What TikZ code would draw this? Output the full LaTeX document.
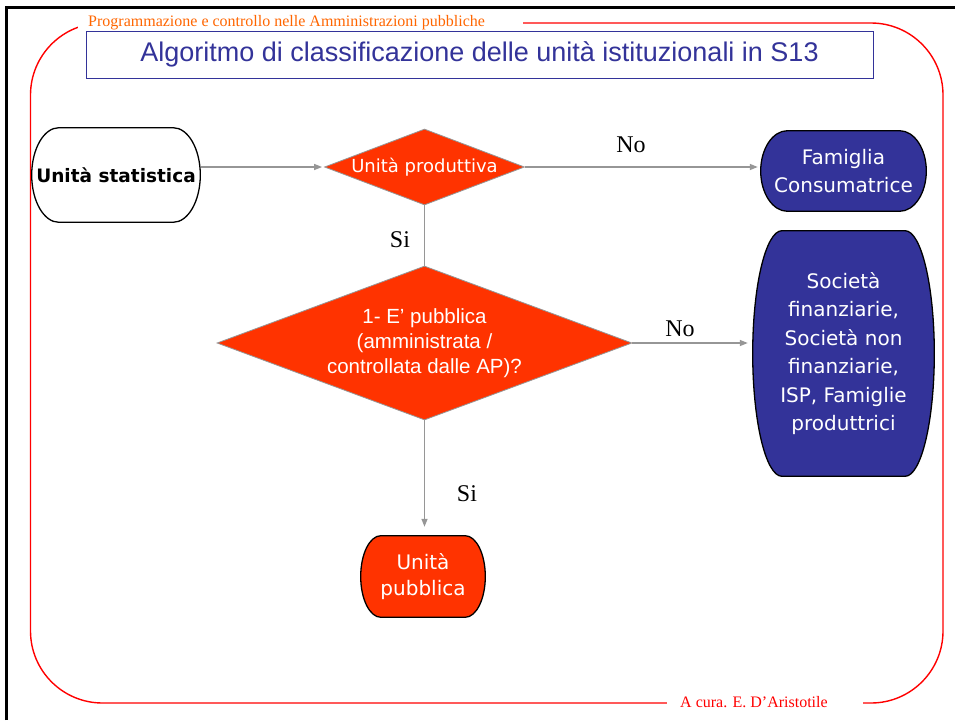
\documentclass[tikz,border=0pt]{standalone}
\usepackage{fontspec}
\setmainfont{Liberation Serif}
\newfontfamily\verdana{DejaVu Sans}
\newfontfamily\arial{Liberation Sans}
\usetikzlibrary{shapes.geometric}
\usetikzlibrary{calc}
\usetikzlibrary{arrows.meta}
\definecolor{boxred}{RGB}{255,51,0}
\definecolor{boxblue}{RGB}{51,51,153}
\definecolor{linegray}{RGB}{150,150,150}
\definecolor{headorange}{RGB}{255,102,0}
\tikzset{
    term/.style={rectangle, inner sep=0pt, align=center, text=white,
        path picture={
            \filldraw[draw=black, line width=1.3pt, fill=#1]
            let \p1=(path picture bounding box.north east),
                \p2=(path picture bounding box.south west),
                \n1={0.16*(\x1-\x2)}, \n2={(\y1-\y2)/2-0.7pt} in
            (\x1-\n1-0.7pt,\y1-0.7pt) arc[start angle=90, end angle=-90, x radius=\n1, y radius=\n2]
            -- (\x2+\n1+0.7pt,\y2+0.7pt) arc[start angle=270, end angle=90, x radius=\n1, y radius=\n2] -- cycle;
        }},
    decision/.style={diamond, draw=linegray, line width=0.8pt, fill=boxred, text=white, inner sep=0pt, align=center},
    flow/.style={draw=linegray, line width=1.3pt},
    >={Triangle[length=8pt, width=6pt]}
}

\begin{document}
\begin{tikzpicture}[x=1pt, y=1pt]
\useasboundingbox (0,0) rectangle (955,-720);
\draw[line width=3pt] (6.5,-720) -- (6.5,-7) -- (955,-7);
\draw[red, line width=1.4pt, rounded corners=72pt] (30.5,-23) rectangle (943,-703);
\fill[white] (78,-12) rectangle (523,-30);
\fill[white] (667,-695) rectangle (863,-712);
\node[text=headorange, font=\fontsize{16}{16}\selectfont, anchor=base west, inner sep=0pt] (head) at (88,-26.5) {Programmazione e controllo nelle Amministrazioni pubbliche};
\node[text=red, font=\fontsize{16}{16}\selectfont, anchor=base west, inner sep=0pt] (foot) at (680,-707) {A cura. E. D’Aristotile};
\node[draw=boxblue, line width=1pt, minimum width=787pt, minimum height=47pt, inner sep=0pt, text=boxblue, font=\arial\fontsize{27}{30}\selectfont] (title) at (479.5,-54.5) {Algoritmo di classificazione delle unità istituzionali in S13};

\node[term=white, text=black, font=\verdana\bfseries\fontsize{18.5}{22}\selectfont, minimum width=170pt, minimum height=96pt] (stat) at (116,-175) {Unità statistica};
\node[decision, aspect=2.63, minimum width=200pt, minimum height=76pt, font=\verdana\fontsize{18}{22}\selectfont] (prod) at (424.5,-167) {Unità produttiva};
\node[term=boxblue, minimum width=167pt, minimum height=82pt, font=\verdana\fontsize{20}{27.5}\selectfont] (fam) at (843.5,-171) {Famiglia\\Consumatrice};
\node[decision, aspect=2.69, minimum width=415pt, minimum height=154pt, font=\arial\fontsize{20.5}{25}\selectfont] (pubq) at (424.5,-343) {1- E’ pubblica\\(amministrata /\\controllata dalle AP)?};
\node[term=boxblue, minimum width=183pt, minimum height=247pt, font=\verdana\fontsize{20}{28.5}\selectfont] (soc) at (843.5,-353.5) {Società\\finanziarie,\\Società non\\finanziarie,\\ISP, Famiglie\\produttrici};
\node[term=boxred, minimum width=126pt, minimum height=83pt, font=\verdana\fontsize{20}{26.5}\selectfont] (pub) at (423,-576.5) {Unità\\pubblica};

\draw[flow, ->, shorten >=2pt] (prod.west -| stat.east) -- (prod.west);
\draw[flow, ->, shorten >=2pt] (prod.east) -- (prod.east -| fam.west);
\draw[flow] (prod.south) -- (pubq.north);
\draw[flow, ->, shorten >=4pt] (pubq.east) -- (pubq.east -| soc.west);
\draw[flow, ->, shorten >=8pt] (pubq.south) -- (pubq.south |- pub.north);

\foreach \x/\y/\t/\n in {631/-145/No/no1, 400/-240/Si/si1, 680/-329/No/no2, 467/-494/Si/si2}
    \node[font=\fontsize{24}{24}\selectfont] (\n) at (\x,\y) {\t};
\end{tikzpicture}
\end{document}
